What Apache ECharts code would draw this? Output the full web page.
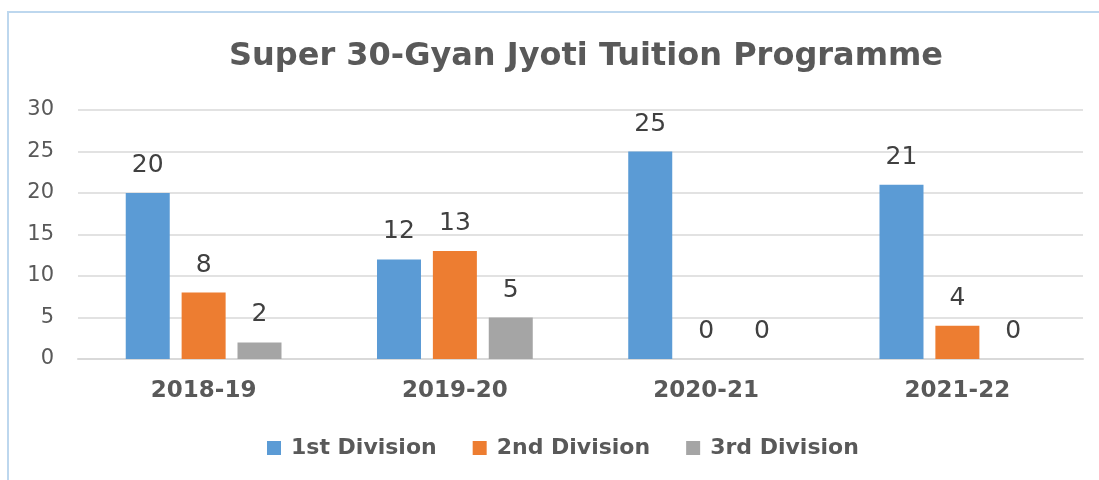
<!DOCTYPE html>
<html>
<head>
<meta charset="utf-8">
<script src="https://cdn.jsdelivr.net/npm/echarts@6/dist/echarts.min.js"></script>
<style>
  html, body { margin: 0; padding: 0; background: #fff; }
  #chart { width: 1099px; height: 480px; }
</style>
</head>
<body>
<div id="chart"></div>
<script>
// chart values
const years = ['2018-19', '2019-20', '2020-21', '2021-22']
const firstDiv = [20, 12, 25, 21]
const secondDiv = [8, 13, 0, 4]
const thirdDiv = [2, 5, 0, 0]
const seriesNames = ['1st Division', '2nd Division', '3rd Division']
const colors = ['#5b9bd5', '#ed7d31', '#a5a5a5']

const fontFamily = 'DejaVu Sans'
const chart = echarts.init(document.getElementById('chart'))

function makeSeries(name, data, color) {
    return {
        name: name,
        type: 'bar',
        data: data,
        barWidth: 44,
        barGap: '27%',
        itemStyle: { color: color },
        label: {
            show: true,
            position: 'top',
            distance: 15,
            fontFamily: fontFamily,
            fontSize: 25,
            color: '#404040'
        }
    }
}

chart.setOption({
    animation: false,
    color: colors,
    title: {
        text: 'Super 30-Gyan Jyoti Tuition Programme',
        left: 581,
        top: 36,
        textAlign: 'center',
        textStyle: {
            fontFamily: fontFamily,
            fontSize: 32,
            fontWeight: 'bold',
            color: '#595959'
        }
    },
    legend: {
        bottom: 16,
        left: 262,
        icon: 'rect',
        itemWidth: 14,
        itemHeight: 14,
        itemGap: 36,
        textStyle: {
            fontFamily: fontFamily,
            fontSize: 22,
            fontWeight: 'bold',
            color: '#595959',
            padding: [0, 0, 0, 5]
        },
        data: seriesNames
    },
    grid: {
        left: 78,
        right: 16,
        top: 110,
        bottom: 121,
        containLabel: false
    },
    xAxis: {
        type: 'category',
        data: years,
        axisLine: { lineStyle: { color: '#d9d9d9', width: 2 } },
        axisTick: { show: false },
        axisLabel: {
            margin: 21,
            fontFamily: fontFamily,
            fontSize: 23,
            fontWeight: 'bold',
            color: '#595959'
        }
    },
    yAxis: {
        type: 'value',
        min: 0,
        max: 30,
        interval: 5,
        axisLine: { show: false },
        axisTick: { show: false },
        splitLine: { lineStyle: { color: '#d9d9d9', width: 1.5 } },
        axisLabel: {
            margin: 24,
            fontFamily: fontFamily,
            fontSize: 21,
            color: '#595959'
        }
    },
    graphic: [{
        type: 'polyline',
        shape: { points: [[8, 480], [8, 12], [1099, 12]] },
        style: { stroke: '#bdd7ee', lineWidth: 2, fill: null }
    }],
    series: [
        makeSeries(seriesNames[0], firstDiv, colors[0]),
        makeSeries(seriesNames[1], secondDiv, colors[1]),
        makeSeries(seriesNames[2], thirdDiv, colors[2])
    ]
})
</script>
</body>
</html>
